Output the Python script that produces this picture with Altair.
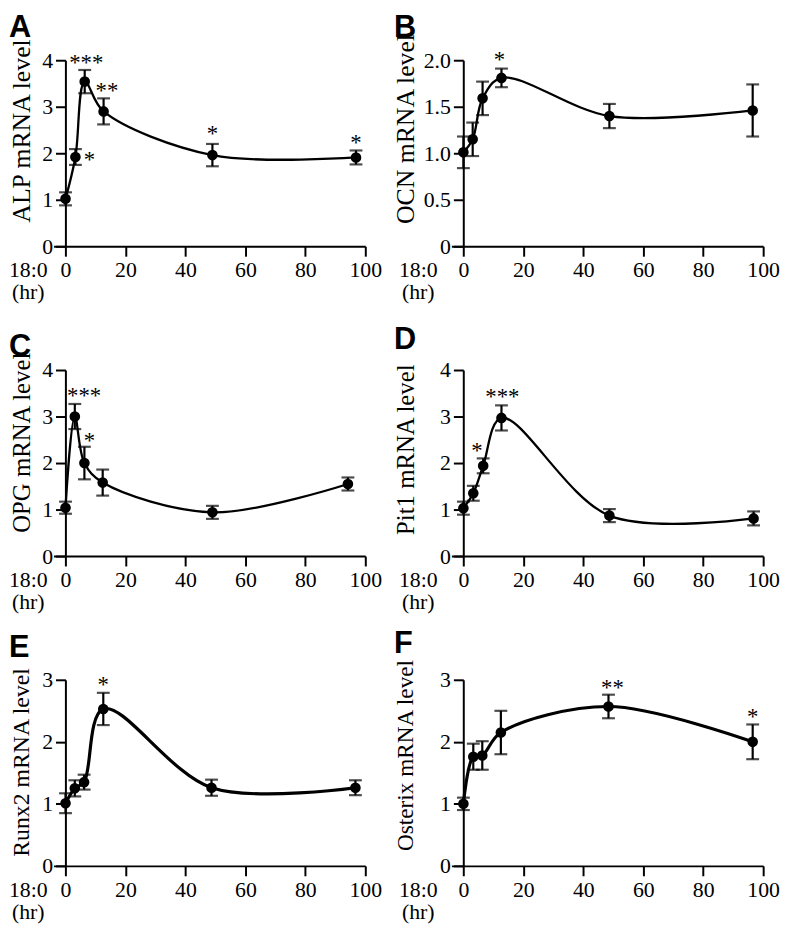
import altair as alt
import pandas as pd

# ---- data ----
letters = ["A", "B", "C", "D", "E", "F"]
ytitles = ["ALP mRNA level", "OCN mRNA level", "OPG mRNA level",
           "Pit1 mRNA level", "Runx2 mRNA level", "Osterix mRNA level"]

A_t = [0, 3.3, 6.4, 12.7, 49, 96.9]
A_y = [1.02, 1.92, 3.54, 2.90, 1.96, 1.91]
A_e = [0.14, 0.17, 0.25, 0.28, 0.24, 0.15]

B_t = [0, 3.1, 6.4, 12.7, 48.7, 96.5]
B_y = [1.01, 1.15, 1.59, 1.81, 1.40, 1.46]
B_e = [0.17, 0.18, 0.18, 0.10, 0.13, 0.28]

C_t = [0, 3.1, 6.3, 12.4, 49, 94.2]
C_y = [1.04, 3.0, 2.0, 1.58, 0.94, 1.55]
C_e = [0.13, 0.27, 0.35, 0.28, 0.14, 0.14]

D_t = [0, 3.3, 6.6, 12.7, 48.7, 96.8]
D_y = [1.03, 1.35, 1.94, 2.97, 0.87, 0.81]
D_e = [0.14, 0.16, 0.16, 0.27, 0.14, 0.15]

E_t = [0, 3.1, 6.2, 12.6, 48.7, 96.7]
E_y = [1.01, 1.25, 1.35, 2.53, 1.26, 1.26]
E_e = [0.16, 0.13, 0.12, 0.26, 0.13, 0.12]

F_t = [0, 3.3, 6.3, 12.5, 48.4, 96.5]
F_y = [1.0, 1.76, 1.78, 2.15, 2.57, 2.0]
F_e = [0.10, 0.21, 0.23, 0.35, 0.19, 0.28]

# significance marks: (text, x, y)
A_s = [("***", 6.9, 4.04), ("**", 13.8, 3.44), ("*", 8.0, 1.96), ("*", 49, 2.51), ("*", 96.9, 2.33)]
B_s = [("*", 12.0, 2.05)]
C_s = [("***", 6.2, 3.55), ("*", 8.0, 2.58)]
D_s = [("*", 4.5, 2.37), ("***", 13.0, 3.52)]
E_s = [("*", 12.6, 3.0)]
F_s = [("**", 49.7, 2.95), ("*", 96.5, 2.48)]

y_max = [4, 2, 4, 4, 3, 3]
y_ticks = [[0, 1, 2, 3, 4], [0, 0.5, 1.0, 1.5, 2.0], [0, 1, 2, 3, 4],
           [0, 1, 2, 3, 4], [0, 1, 2, 3], [0, 1, 2, 3]]
x_ticks = [0, 20, 40, 60, 80, 100]

W, H = 315, 188
FONT = "Liberation Serif"


def panel(i, t, y, e, stars):
    left = (i % 2 == 0)
    df = pd.DataFrame({"t": t, "y": y,
                       "lo": [a - b for a, b in zip(y, e)],
                       "hi": [a + b for a, b in zip(y, e)]})
    sdf = pd.DataFrame(stars, columns=["s", "t", "y"])
    ldf = pd.DataFrame({"letter": [letters[i]]})

    lw = 3.2 if i >= 4 else 2.3
    xs = alt.Scale(domain=[-4, 100], nice=False, zero=False)
    ys = alt.Scale(domain=[0, y_max[i]], nice=False, zero=True)

    if i == 1:
        lab = "datum.value == 0 ? '0' : format(datum.value, '.1f')"
    else:
        lab = "format(datum.value, 'd')"

    xaxis = alt.Axis(values=x_ticks, tickSize=10, labelPadding=4, labelFontSize=22,
                     labelFont=FONT, domainWidth=2, tickWidth=2, grid=False,
                     labelOverlap=False, labelFlush=False,
                     title=["18:0", "(hr)"], titleX=-26 if left else -34, titleY=14,
                     titleBaseline="top", titleAlign="center", titleFontSize=22,
                     titleFont=FONT, titleFontWeight="normal", titleLineHeight=22)
    title_y = [71, 69, 73, 80, 83, 76][i]
    title_fs = [26, 26, 25, 25, 24, 23.5][i]
    yaxis = alt.Axis(values=y_ticks[i], offset=-12, tickSize=10, labelPadding=3,
                     labelFontSize=22, labelFont=FONT, labelExpr=lab,
                     domainWidth=2, tickWidth=2, grid=False,
                     title=ytitles[i], titleFont=FONT, titleFontSize=title_fs,
                     titleFontWeight="normal", titleX=-44 if left else -58,
                     titleY=title_y, titleBaseline="middle", titleAlign="center")

    base = alt.Chart(df)
    X = alt.X("t:Q", scale=xs, axis=xaxis)
    Y = alt.Y("y:Q", scale=ys, axis=yaxis)

    line = base.mark_line(interpolate="catmull-rom", color="black", strokeWidth=lw).encode(x=X, y=Y)
    err = base.mark_rule(color="black", strokeWidth=2.2).encode(
        x=alt.X("t:Q", axis=xaxis), y=alt.Y("lo:Q", axis=yaxis), y2="hi:Q")
    cap_lo = base.mark_tick(orient="horizontal", size=13, thickness=2.2, color="black").encode(
        x=alt.X("t:Q", axis=xaxis), y=alt.Y("lo:Q", axis=yaxis))
    cap_hi = base.mark_tick(orient="horizontal", size=13, thickness=2.2, color="black").encode(
        x=alt.X("t:Q", axis=xaxis), y=alt.Y("hi:Q", axis=yaxis))
    pts = base.mark_point(filled=True, shape="circle", size=115, color="black", opacity=1).encode(
        x=alt.X("t:Q", axis=xaxis), y=alt.Y("y:Q", axis=yaxis))
    st = alt.Chart(sdf).mark_text(font=FONT, fontSize=23, color="black",
                                   baseline="middle", dy=5).encode(
        x=alt.X("t:Q", axis=xaxis), y=alt.Y("y:Q", axis=yaxis), text="s:N")
    ly = [-47, -47, -38, -45, -47, -51][i]
    lx = -45 if left else -58
    let = alt.Chart(ldf).mark_text(font="Liberation Sans", fontWeight="bold", fontSize=31,
                                   color="black", align="left", baseline="top").encode(
        text="letter:N", x=alt.value(lx), y=alt.value(ly))

    return alt.layer(line, err, cap_lo, cap_hi, pts, st, let).properties(width=W, height=H)


panels = [panel(0, A_t, A_y, A_e, A_s), panel(1, B_t, B_y, B_e, B_s),
          panel(2, C_t, C_y, C_e, C_s), panel(3, D_t, D_y, D_e, D_s),
          panel(4, E_t, E_y, E_e, E_s), panel(5, F_t, F_y, F_e, F_s)]

chart = alt.concat(*panels, columns=2, spacing={"row": 125, "column": 87},
                   bounds="flush").properties(padding=0, background="white").configure_view(
    stroke=None).configure_axis(domainColor="black", tickColor="black",
                                 labelColor="black", titleColor="black",
                                 labelFont=FONT, titleFont=FONT)

chart.save("out.html", embed_options={"renderer": "svg", "actions": False})
